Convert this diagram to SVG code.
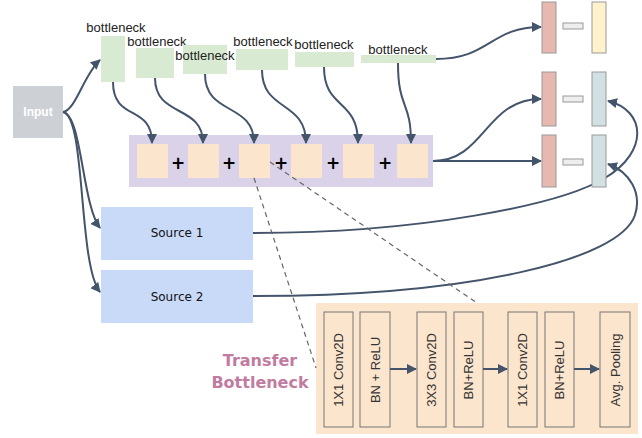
<svg xmlns="http://www.w3.org/2000/svg" width="642" height="438" viewBox="0 0 642 438">
<defs>
<marker id="ah" viewBox="0 0 10 10" refX="9" refY="5" markerWidth="5" markerHeight="5" markerUnits="strokeWidth" orient="auto">
<path d="M0,0 L10,5 L0,10 Z" fill="#44546a"/>
</marker>
<style>
.bn{fill:#d9ead3}
.lbl{font-family:"Liberation Sans",Arial,sans-serif;font-size:13px;fill:#222}
.sq{fill:#fce5cd}
.plus{font-family:"DejaVu Sans",sans-serif;font-size:17px;font-weight:bold;fill:#000;text-anchor:middle}
.src{fill:#c9daf8}
.srct{font-family:"DejaVu Sans",sans-serif;font-size:12px;fill:#111;text-anchor:middle}
.con{fill:none;stroke:#44546a;stroke-width:2}
.arr{marker-end:url(#ah)}
.dash{fill:none;stroke:#666;stroke-width:1.2;stroke-dasharray:5,4}
.red{fill:#e6b8af;stroke:#999;stroke-width:1}
.yel{fill:#fff2cc;stroke:#999;stroke-width:1}
.teal{fill:#d0e0e3;stroke:#999;stroke-width:1}
.minus{fill:#eeeeee;stroke:#999;stroke-width:1}
.ib{fill:#fce5cd;stroke:#777;stroke-width:1}
.ibt{font-family:"Liberation Sans",Arial,sans-serif;font-size:13px;fill:#333;text-anchor:middle}
</style>
</defs>
<rect width="642" height="438" fill="#ffffff"/>

<g id="input">
<rect x="13" y="86" width="50" height="52" fill="#cdd1d6"/>
<text x="38" y="116" font-family="Liberation Sans,Arial,sans-serif" font-size="12" font-weight="bold" fill="#ffffff" text-anchor="middle">Input</text>
</g>

<g id="bottleneck1"><rect class="bn" x="101" y="36" width="24" height="46"/><text class="lbl" x="116" y="32" text-anchor="middle">bottleneck</text></g>
<g id="bottleneck2"><rect class="bn" x="136" y="48" width="38" height="30"/><text class="lbl" x="157" y="46" text-anchor="middle">bottleneck</text></g>
<g id="bottleneck3"><rect class="bn" x="183" y="45" width="44" height="29"/><text class="lbl" x="205" y="60" text-anchor="middle">bottleneck</text></g>
<g id="bottleneck4"><rect class="bn" x="236" y="49" width="52" height="21"/><text class="lbl" x="263" y="46" text-anchor="middle">bottleneck</text></g>
<g id="bottleneck5"><rect class="bn" x="295" y="52" width="59" height="15"/><text class="lbl" x="324" y="49" text-anchor="middle">bottleneck</text></g>
<g id="bottleneck6"><rect class="bn" x="361" y="55" width="75" height="8"/><text class="lbl" x="398" y="54" text-anchor="middle">bottleneck</text></g>

<g id="sum">
<rect x="129" y="135" width="304" height="52" fill="#d9d2e9"/>
<rect class="sq" x="137" y="144" width="31" height="34"/>
<rect class="sq" x="188" y="144" width="31" height="34"/>
<rect class="sq" x="239" y="144" width="31" height="34"/>
<rect class="sq" x="291" y="144" width="31" height="34"/>
<rect class="sq" x="343" y="144" width="31" height="34"/>
<rect class="sq" x="397" y="144" width="31" height="34"/>
<text class="plus" x="178" y="169">+</text>
<text class="plus" x="229" y="169">+</text>
<text class="plus" x="281" y="169">+</text>
<text class="plus" x="333" y="169">+</text>
<text class="plus" x="385" y="169">+</text>
</g>

<g id="source1"><rect class="src" x="101" y="207" width="152" height="53"/><text class="srct" x="177" y="237">Source 1</text></g>
<g id="source2"><rect class="src" x="101" y="270" width="152" height="53"/><text class="srct" x="177" y="301">Source 2</text></g>

<g id="transfer">
<rect x="316" y="303" width="322" height="131" fill="#fce5cd"/>
<rect class="ib" x="324" y="312" width="29" height="115"/>
<rect class="ib" x="360" y="312" width="30" height="115"/>
<rect class="ib" x="417" y="312" width="29" height="115"/>
<rect class="ib" x="454" y="312" width="29" height="115"/>
<rect class="ib" x="508" y="312" width="29" height="115"/>
<rect class="ib" x="545" y="312" width="29" height="115"/>
<rect class="ib" x="600" y="312" width="30" height="115"/>
<text class="ibt" transform="translate(338.5,370) rotate(-90)" y="4.5">1X1 Conv2D</text>
<text class="ibt" transform="translate(375,370) rotate(-90)" y="4.5">BN + ReLU</text>
<text class="ibt" transform="translate(431.5,370) rotate(-90)" y="4.5">3X3 Conv2D</text>
<text class="ibt" transform="translate(468.5,370) rotate(-90)" y="4.5">BN+ReLU</text>
<text class="ibt" transform="translate(522.5,370) rotate(-90)" y="4.5">1X1 Conv2D</text>
<text class="ibt" transform="translate(559.5,370) rotate(-90)" y="4.5">BN+ReLU</text>
<text class="ibt" transform="translate(615,370) rotate(-90)" y="4.5">Avg. Pooling</text>
<text x="260" y="366" font-family="DejaVu Sans,sans-serif" font-size="16" font-weight="bold" fill="#c27ba0" text-anchor="middle">Transfer</text>
<text x="260" y="388" font-family="DejaVu Sans,sans-serif" font-size="16" font-weight="bold" fill="#c27ba0" text-anchor="middle">Bottleneck</text>
</g>

<g id="connectors">
<path class="con arr" d="M63,112 C76,110 84,74 100,60"/>
<path class="con arr" d="M63,112 C82,115 82,205 100,228"/>
<path class="con arr" d="M63,112 C86,116 78,265 100,292"/>
<path class="con arr" d="M113,82 C113,122 152,104 152,143"/>
<path class="con arr" d="M155,78 C155,118 203,104 203,143"/>
<path class="con arr" d="M205,74 C205,116 254,102 254,143"/>
<path class="con arr" d="M262,70 C262,112 306,100 306,143"/>
<path class="con arr" d="M324,67 C324,110 358,98 358,143"/>
<path class="con arr" d="M398,63 C398,110 411,100 411,143"/>
<path class="con arr" d="M436,59 C490,59 490,27 541,27"/>
<path class="con arr" d="M433,161 C485,161 485,99 541,99"/>
<path class="con arr" d="M433,161 L541,161"/>
<path class="con arr" d="M253,233 C420,233 560,205 605,178 C650,151 645,110 608,101"/>
<path class="con arr" d="M253,296 C470,296 620,260 635,215 C642,193 630,172 608,164"/>
<path class="con arr" d="M390,369 L416,369"/>
<path class="con arr" d="M483,369 L507,369"/>
<path class="con arr" d="M574,369 L599,369"/>
<path class="dash" d="M254,178 L316,368"/>
<path class="dash" d="M270,162 L477,303"/>
</g>

<g id="out1">
<rect class="red" x="542" y="2" width="14" height="51"/>
<rect class="minus" x="563" y="23" width="20" height="6"/>
<rect class="yel" x="592" y="2" width="14" height="51"/>
</g>
<g id="out2">
<rect class="red" x="542" y="72" width="14" height="54"/>
<rect class="minus" x="563" y="96" width="20" height="6"/>
<rect class="teal" x="592" y="72" width="14" height="54"/>
</g>
<g id="out3">
<rect class="red" x="542" y="135" width="14" height="52"/>
<rect class="minus" x="563" y="159" width="20" height="6"/>
<rect class="teal" x="592" y="135" width="14" height="52"/>
</g>
</svg>
